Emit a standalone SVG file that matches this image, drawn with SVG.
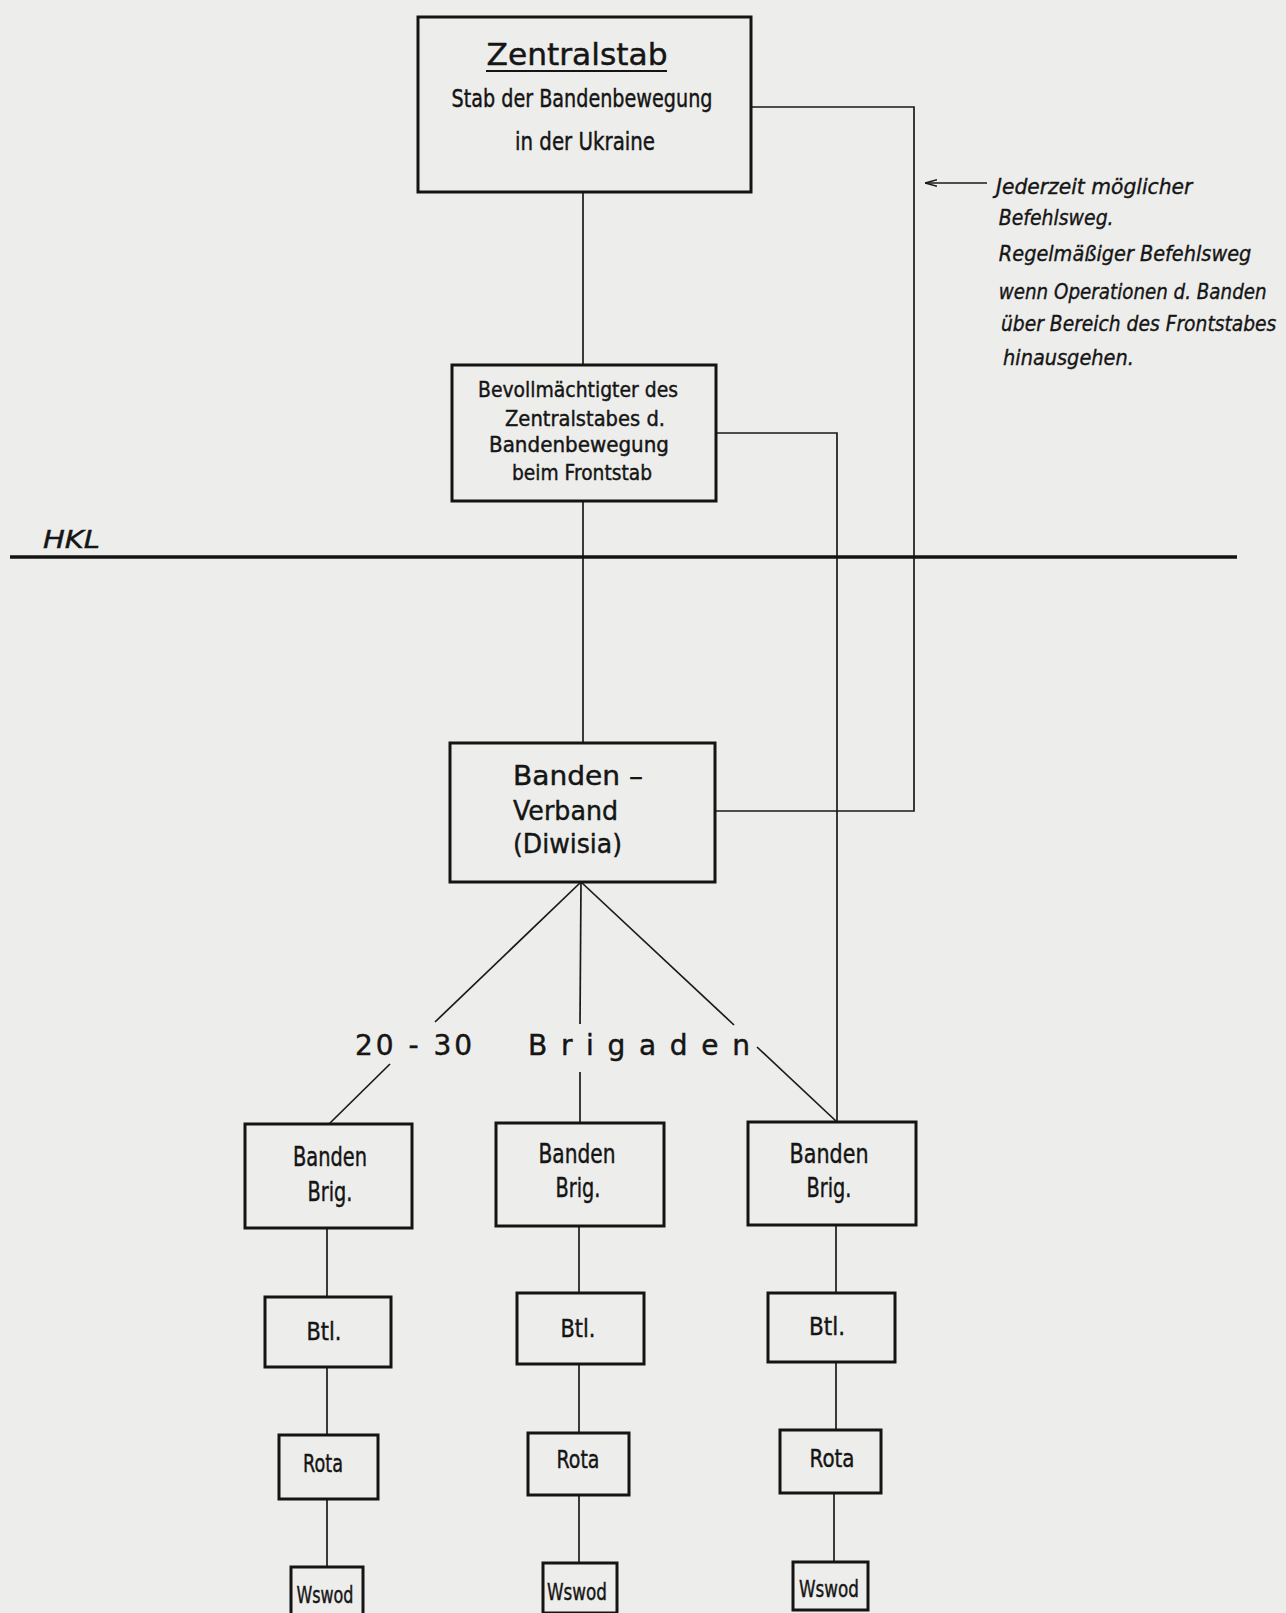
<svg xmlns="http://www.w3.org/2000/svg" width="1286" height="1613" viewBox="0 0 1286 1613">
<defs>
<style>
.bg{fill:#ededeb}
.box{fill:none;stroke:#141414;stroke-width:3}
.ln{fill:none;stroke:#1a1a1a;stroke-width:1.7}
.hkl{fill:none;stroke:#141414;stroke-width:3.6}
.t{font-family:"DejaVu Sans","Liberation Sans",sans-serif;fill:#151515;stroke:#151515;stroke-width:0.45;text-anchor:middle}
.ts{font-family:"DejaVu Sans","Liberation Sans",sans-serif;fill:#151515;stroke:#151515;stroke-width:0.45}
.it{font-family:"DejaVu Sans","Liberation Sans",sans-serif;font-style:italic;fill:#151515;stroke:#151515;stroke-width:0.4;font-size:22px}
</style>
<marker id="arr" viewBox="0 0 12 8" refX="12" refY="4" markerWidth="12" markerHeight="8" markerUnits="userSpaceOnUse" orient="auto">
<path d="M0,0.8 L12,4 L0,7.2" fill="none" stroke="#1a1a1a" stroke-width="1.4"/>
</marker>
</defs>
<rect class="bg" x="0" y="0" width="1286" height="1613"/>

<g id="connectors">
<line class="ln" x1="583" y1="192" x2="583" y2="365"/>
<line class="ln" x1="583" y1="501" x2="583" y2="743"/>
<polyline class="ln" points="751,107 914,107 914,811 715,811"/>
<polyline class="ln" points="716,433 837,433 837,1122"/>
<line class="ln" x1="581" y1="882" x2="435" y2="1022"/>
<line class="ln" x1="390" y1="1064" x2="329" y2="1124"/>
<line class="ln" x1="581" y1="882" x2="580" y2="1024"/>
<line class="ln" x1="580" y1="1072" x2="580" y2="1123"/>
<line class="ln" x1="581" y1="882" x2="734" y2="1025"/>
<line class="ln" x1="757" y1="1047" x2="837" y2="1122"/>
<line class="ln" x1="327" y1="1228" x2="327" y2="1297"/>
<line class="ln" x1="327" y1="1367" x2="327" y2="1435"/>
<line class="ln" x1="327" y1="1499" x2="327" y2="1567"/>
<line class="ln" x1="579" y1="1226" x2="579" y2="1293"/>
<line class="ln" x1="579" y1="1364" x2="579" y2="1433"/>
<line class="ln" x1="579" y1="1495" x2="579" y2="1563"/>
<line class="ln" x1="836" y1="1225" x2="836" y2="1293"/>
<line class="ln" x1="836" y1="1362" x2="836" y2="1430"/>
<line class="ln" x1="834" y1="1493" x2="834" y2="1562"/>
<line class="ln" x1="987" y1="183" x2="925" y2="183" marker-end="url(#arr)"/>
</g>

<g id="hkl">
<line class="hkl" x1="10" y1="557" x2="1237" y2="557"/>
<text class="ts" x="43" y="548" font-size="25" font-style="italic" textLength="57" lengthAdjust="spacingAndGlyphs">HKL</text>
</g>

<g id="note" transform="translate(998,0) scale(0.85,1)">
<text class="it" x="-2.4" y="194" textLength="231" lengthAdjust="spacingAndGlyphs">Jederzeit möglicher</text>
<text class="it" x="1" y="225" textLength="135" lengthAdjust="spacingAndGlyphs">Befehlsweg.</text>
<text class="it" x="1" y="261" textLength="297" lengthAdjust="spacingAndGlyphs">Regelmäßiger Befehlsweg</text>
<text class="it" x="1" y="299" textLength="315" lengthAdjust="spacingAndGlyphs">wenn Operationen d. Banden</text>
<text class="it" x="3.5" y="331" textLength="324" lengthAdjust="spacingAndGlyphs">über Bereich des Frontstabes</text>
<text class="it" x="5.9" y="365" textLength="154" lengthAdjust="spacingAndGlyphs">hinausgehen.</text>
</g>

<g id="zentralstab">
<rect class="box" x="418" y="17" width="333" height="175"/>
<text class="t" x="577" y="65" font-size="31" textLength="181" lengthAdjust="spacingAndGlyphs">Zentralstab</text>
<line x1="486" y1="71" x2="667" y2="71" stroke="#151515" stroke-width="2"/>
<text class="t" x="582" y="107" font-size="24" textLength="261" lengthAdjust="spacingAndGlyphs">Stab der Bandenbewegung</text>
<text class="t" x="585" y="150" font-size="24" textLength="140" lengthAdjust="spacingAndGlyphs">in der Ukraine</text>
</g>

<g id="bevollmaechtigter">
<rect class="box" x="452" y="365" width="264" height="136"/>
<text class="t" x="578" y="397" font-size="22" textLength="200" lengthAdjust="spacingAndGlyphs">Bevollmächtigter des</text>
<text class="t" x="585" y="426" font-size="22" textLength="160" lengthAdjust="spacingAndGlyphs">Zentralstabes d.</text>
<text class="t" x="579" y="452" font-size="22" textLength="180" lengthAdjust="spacingAndGlyphs">Bandenbewegung</text>
<text class="t" x="582" y="480" font-size="22" textLength="140" lengthAdjust="spacingAndGlyphs">beim Frontstab</text>
</g>

<g id="verband">
<rect class="box" x="450" y="743" width="265" height="139"/>
<text class="ts" x="513" y="785" font-size="27" textLength="130" lengthAdjust="spacingAndGlyphs">Banden –</text>
<text class="ts" x="513" y="820" font-size="27" textLength="105" lengthAdjust="spacingAndGlyphs">Verband</text>
<text class="ts" x="513" y="853" font-size="27" textLength="109" lengthAdjust="spacingAndGlyphs">(Diwisia)</text>
</g>

<g id="brigaden-label">
<text class="ts" x="355" y="1055" font-size="28" textLength="117" lengthAdjust="spacing">20 - 30</text>
<text class="ts" x="528" y="1055" font-size="28" textLength="222" lengthAdjust="spacing">Brigaden</text>
</g>

<g id="brig1">
<rect class="box" x="245" y="1124" width="167" height="104"/>
<text class="t" x="330" y="1166" font-size="26" textLength="74" lengthAdjust="spacingAndGlyphs">Banden</text>
<text class="t" x="330" y="1201" font-size="26" textLength="45" lengthAdjust="spacingAndGlyphs">Brig.</text>
</g>
<g id="brig2">
<rect class="box" x="496" y="1123" width="168" height="103"/>
<text class="t" x="577" y="1163" font-size="26" textLength="77" lengthAdjust="spacingAndGlyphs">Banden</text>
<text class="t" x="578" y="1197" font-size="26" textLength="45" lengthAdjust="spacingAndGlyphs">Brig.</text>
</g>
<g id="brig3">
<rect class="box" x="748" y="1122" width="168" height="103"/>
<text class="t" x="829" y="1163" font-size="26" textLength="79" lengthAdjust="spacingAndGlyphs">Banden</text>
<text class="t" x="829" y="1197" font-size="26" textLength="45" lengthAdjust="spacingAndGlyphs">Brig.</text>
</g>

<g id="btl1">
<rect class="box" x="265" y="1297" width="126" height="70"/>
<text class="t" x="324" y="1340" font-size="25" textLength="35" lengthAdjust="spacingAndGlyphs">Btl.</text>
</g>
<g id="btl2">
<rect class="box" x="517" y="1293" width="127" height="71"/>
<text class="t" x="578" y="1337" font-size="25" textLength="35" lengthAdjust="spacingAndGlyphs">Btl.</text>
</g>
<g id="btl3">
<rect class="box" x="768" y="1293" width="127" height="69"/>
<text class="t" x="827" y="1335" font-size="25" textLength="36" lengthAdjust="spacingAndGlyphs">Btl.</text>
</g>

<g id="rota1">
<rect class="box" x="279" y="1435" width="99" height="64"/>
<text class="t" x="323" y="1472" font-size="25" textLength="40" lengthAdjust="spacingAndGlyphs">Rota</text>
</g>
<g id="rota2">
<rect class="box" x="528" y="1433" width="101" height="62"/>
<text class="t" x="578" y="1468" font-size="25" textLength="43" lengthAdjust="spacingAndGlyphs">Rota</text>
</g>
<g id="rota3">
<rect class="box" x="780" y="1430" width="101" height="63"/>
<text class="t" x="832" y="1467" font-size="25" textLength="45" lengthAdjust="spacingAndGlyphs">Rota</text>
</g>

<g id="wswod1">
<rect class="box" x="291" y="1567" width="72" height="50"/>
<text class="t" x="325" y="1603" font-size="23" textLength="57" lengthAdjust="spacingAndGlyphs">Wswod</text>
</g>
<g id="wswod2">
<rect class="box" x="543" y="1563" width="74" height="50"/>
<text class="t" x="577" y="1600" font-size="23" textLength="60" lengthAdjust="spacingAndGlyphs">Wswod</text>
</g>
<g id="wswod3">
<rect class="box" x="793" y="1562" width="75" height="48"/>
<text class="t" x="829" y="1597" font-size="23" textLength="60" lengthAdjust="spacingAndGlyphs">Wswod</text>
</g>
</svg>
